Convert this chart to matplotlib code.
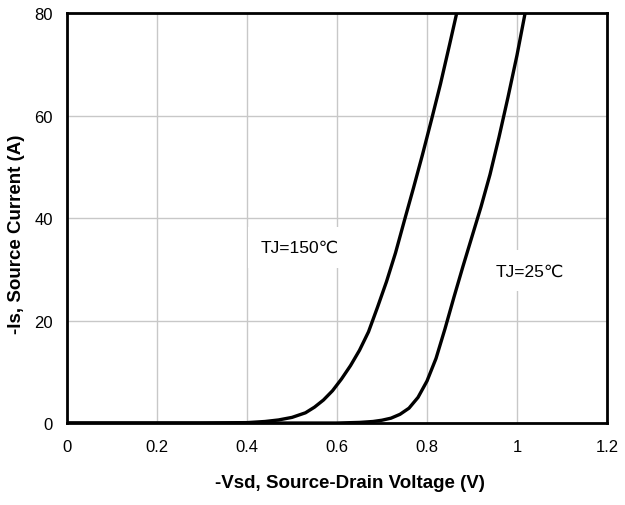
import matplotlib.pyplot as plt

plt.rcParams['font.family'] = ['Liberation Sans', 'DejaVu Sans']

# values
v_150 = [0.0, 0.30, 0.40, 0.44, 0.47, 0.50, 0.53, 0.55, 0.57, 0.59, 0.61, 0.63, 0.65, 0.67,
         0.69, 0.71, 0.73, 0.75, 0.77, 0.79, 0.81, 0.83, 0.85, 0.866]
i_150 = [0.0, 0.0, 0.08, 0.3, 0.6, 1.1, 2.0, 3.1, 4.5, 6.3, 8.6, 11.2, 14.2, 17.8,
         22.6, 27.6, 33.2, 39.6, 45.9, 52.4, 59.2, 66.2, 73.8, 80.0]
v_25 = [0.0, 0.60, 0.65, 0.68, 0.70, 0.72, 0.74, 0.76, 0.78, 0.80, 0.82, 0.84, 0.86,
        0.88, 0.90, 0.92, 0.94, 0.96, 0.98, 1.00, 1.018]
i_25 = [0.0, 0.0, 0.12, 0.3, 0.55, 0.95, 1.7, 2.9, 5.0, 8.2, 12.6, 18.4, 24.6,
        30.6, 36.4, 42.2, 48.5, 55.8, 63.6, 71.8, 80.0]

labels = ['TJ=150℃', 'TJ=25℃']
label_pos = [(0.518, 34.3), (1.028, 29.7)]

fig = plt.figure(figsize=(6.25, 5.06), dpi=100)
ax = fig.add_axes([0.1072, 0.162, 0.864, 0.810])

ax.plot(v_150, i_150, color='black', lw=2.4, zorder=3)
ax.plot(v_25, i_25, color='black', lw=2.4, zorder=3)

ax.set_xlim(0, 1.2)
ax.set_ylim(0, 80)
ax.set_xticks([0, 0.2, 0.4, 0.6, 0.8, 1.0, 1.2])
ax.set_xticklabels(['0', '0.2', '0.4', '0.6', '0.8', '1', '1.2'])
ax.set_yticks([0, 20, 40, 60, 80])
ax.grid(True, color='#c8c8c8', lw=1.0)
ax.set_axisbelow(True)
ax.tick_params(length=0, labelsize=12)
ax.tick_params(axis='x', pad=11.5)
ax.tick_params(axis='y', pad=10)
for s in ax.spines.values():
    s.set_linewidth(2.0)
    s.set_color('black')

for txt, (x, y) in zip(labels, label_pos):
    ax.text(x, y, txt, fontsize=12.5, ha='center', va='center',
            bbox=dict(boxstyle='square,pad=0.75', facecolor='white', edgecolor='none'), zorder=2)

ax.set_xlabel('-Vsd, Source-Drain Voltage (V)', fontsize=13.5, fontweight='bold')
ax.set_ylabel('-Is, Source Current (A)', fontsize=13.5, fontweight='bold')
ax.xaxis.set_label_coords(0.524, -0.124)
ax.yaxis.set_label_coords(-0.078, 0.463)

fig.savefig('out.png', dpi=100)
